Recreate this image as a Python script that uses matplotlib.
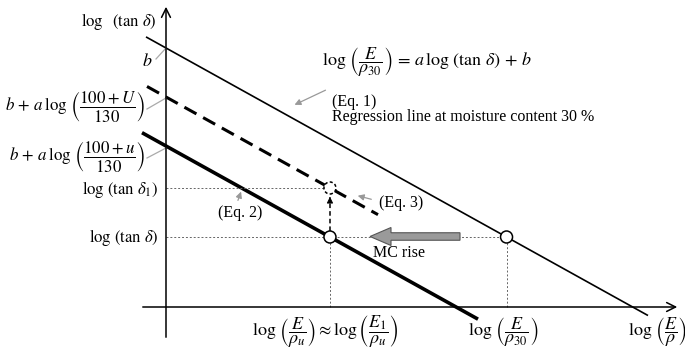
import numpy as np
import matplotlib.pyplot as plt
from matplotlib.patches import Circle, FancyArrow

plt.rcParams['mathtext.fontset'] = 'stix'
plt.rcParams['font.family'] = ['Liberation Serif', 'DejaVu Serif']

# schematic values (origin at axis crossing, one unit = one pixel)
slope = -0.555
b_30 = 259        # Eq. 1, moisture content 30 %
b_U = 210         # Eq. 3
b_u = 161         # Eq. 2
x_30 = [-20, 482]
x_U = [-19, 212]
x_u = [-24, 312]
tan_level = 70    # log(tan delta)

def line(b, xr):
    x = np.array(xr, dtype=float)
    return x, b + slope * x

x_circ_30 = (tan_level - b_30) / slope
x_circ_u = (tan_level - b_u) / slope
tan1_level = b_U + slope * x_circ_u

fig = plt.figure(figsize=(6.85, 3.64), dpi=100)
ax = fig.add_axes([0, 0, 1, 1])
ax.set_xlim(-166, 685 - 166)
ax.set_ylim(307 - 364, 307)
ax.set_aspect('equal')
ax.axis('off')

def px(x, y):
    return (x - 166, 307 - y)

# axes
ax.annotate('', xy=px(680, 307), xytext=px(140, 307),
            arrowprops=dict(arrowstyle='->', lw=1.1, color='black', mutation_scale=16))
ax.annotate('', xy=px(166, 4), xytext=px(166, 340),
            arrowprops=dict(arrowstyle='->', lw=1.1, color='black', mutation_scale=16))

# lines
x, y = line(b_30, x_30)
ax.plot(x, y, color='black', lw=1.2, solid_capstyle='butt')
x, y = line(b_U, x_U)
ax.plot(x, y, color='black', lw=2.2, dashes=(4.5, 2.5))
x, y = line(b_u, x_u)
ax.plot(x, y, color='black', lw=2.6, solid_capstyle='butt')

# guide lines
gk = dict(color='#666666', lw=0.7, dashes=(2, 2))
ax.plot([0, x_circ_30], [tan_level, tan_level], **gk)
ax.plot([0, x_circ_u], [tan1_level, tan1_level], **gk)
ax.plot([x_circ_u, x_circ_u], [0, tan_level], **gk)
ax.plot([x_circ_30, x_circ_30], [0, tan_level], **gk)

# MC rise arrow
ax.add_patch(FancyArrow(294, tan_level + 0.5, -90, 0, width=7.5, head_width=18, head_length=21,
                        length_includes_head=True, facecolor='#9a9a9a', edgecolor='#555555',
                        lw=0.8, zorder=4))

# vertical dashed arrow
ax.plot([x_circ_u, x_circ_u], [tan_level + 6, tan1_level - 12], color='black', lw=1.1,
        dashes=(3, 2))
ax.annotate('', xy=(x_circ_u, tan1_level - 6), xytext=(x_circ_u, tan1_level - 13),
            arrowprops=dict(arrowstyle='-|>', lw=0.8, color='black', mutation_scale=9))

# circles
ax.add_patch(Circle((x_circ_30, tan_level), 6, facecolor='white', edgecolor='black', lw=1.1, zorder=5))
ax.add_patch(Circle((x_circ_u, tan_level), 6, facecolor='white', edgecolor='black', lw=1.1, zorder=5))
ax.add_patch(Circle((x_circ_u, tan1_level), 6, facecolor='white', edgecolor='black', lw=1.1,
                    ls=(0, (2, 1.5)), zorder=5))

# leader lines
lk = dict(color='#aaaaaa', lw=0.9)
ax.plot(*zip(px(156, 59), px(166, 48)), **lk)
ax.plot(*zip(px(147, 109), px(166, 98)), **lk)
ax.plot(*zip(px(147, 158), px(166, 148)), **lk)
ak = dict(arrowstyle='-|>', color='#999999', lw=0.9, mutation_scale=9)
ax.annotate('', xy=px(292, 106), xytext=px(328, 89), arrowprops=ak)
ax.annotate('', xy=px(242, 189), xytext=px(237, 203), arrowprops=ak)
ax.annotate('', xy=px(355, 195), xytext=px(374, 200), arrowprops=ak)

fs = 11.5
fm = 13
ax.text(*px(156, 22), r'$\log\ \ (\tan\,\delta)$', ha='right', va='center', fontsize=fs + 0.5)
ax.text(*px(147, 62), r'$b$', ha='center', va='center', fontsize=fm)
ax.text(*px(145, 107), r'$b\,+\,a\,\log\,\left(\dfrac{100+U}{130}\right)$', ha='right', va='center', fontsize=12.2)
ax.text(*px(145, 157), r'$b\,+\,a\,\log\,\left(\dfrac{100+u}{130}\right)$', ha='right', va='center', fontsize=12.2)
ax.text(*px(158, 189), r'$\log\,(\tan\,\delta_1)$', ha='right', va='center', fontsize=fs + 0.5)
ax.text(*px(158, 238), r'$\log\,(\tan\,\delta)$', ha='right', va='center', fontsize=fs + 0.5)
ax.text(*px(322, 62), r'$\log\,\left(\dfrac{E}{\rho_{30}}\right)\,=\,a\,\log\,(\tan\,\delta)\,+\,b$',
        ha='left', va='center', fontsize=fm)
ax.text(*px(332, 102), '(Eq. 1)', ha='left', va='center', fontsize=fs)
ax.text(*px(332, 117), 'Regression line at moisture content 30 %', ha='left', va='center', fontsize=fs)
ax.text(*px(218, 213), '(Eq. 2)', ha='left', va='center', fontsize=fs)
ax.text(*px(379, 203), '(Eq. 3)', ha='left', va='center', fontsize=fs)
ax.text(*px(373, 253), 'MC rise', ha='left', va='center', fontsize=fs)
ax.text(*px(325, 332), r'$\log\,\left(\dfrac{E}{\rho_u}\right) \approx \log\left(\dfrac{E_1}{\rho_u}\right)$',
        ha='center', va='center', fontsize=fm)
ax.text(*px(503, 332), r'$\log\,\left(\dfrac{E}{\rho_{30}}\right)$', ha='center', va='center', fontsize=fm)
ax.text(*px(628, 332), r'$\log\,\left(\dfrac{E}{\rho}\right)$', ha='left', va='center', fontsize=fm)

fig.savefig('out.png', dpi=100)
